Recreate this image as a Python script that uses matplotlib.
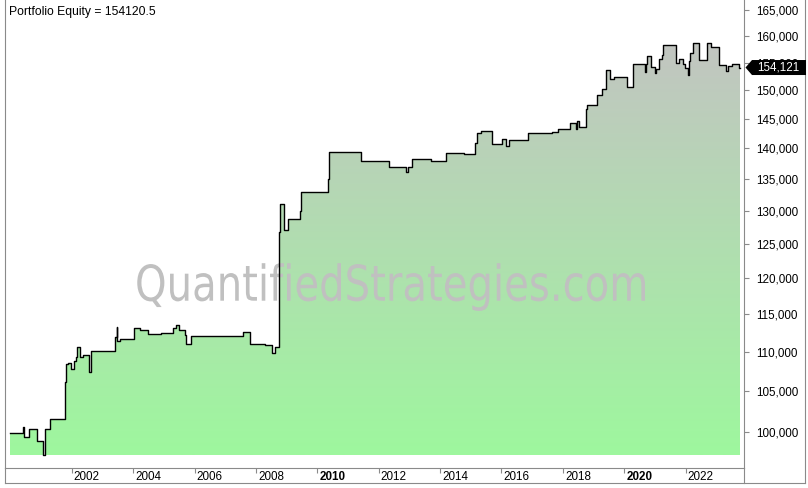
import numpy as np
import matplotlib
matplotlib.use("Agg")
import matplotlib.pyplot as plt
import matplotlib.transforms as mtransforms
from matplotlib.textpath import TextPath
from matplotlib.font_manager import FontProperties
from matplotlib.patches import PathPatch, Polygon
from matplotlib.path import Path
from matplotlib.lines import Line2D
from matplotlib.ticker import FuncFormatter, NullLocator, FixedLocator

# equity curve (decimal year, equity), drawn as steps
years = [2000.00, 2000.42, 2000.43, 2000.62, 2000.87, 2001.07, 2001.14, 2001.30,
         2001.79, 2001.82, 2001.89, 2001.98, 2002.08, 2002.13, 2002.16, 2002.28,
         2002.38, 2002.57, 2002.62, 2003.40, 2003.47, 2003.49, 2003.56, 2004.04,
         2004.23, 2004.48, 2004.90, 2005.31, 2005.41, 2005.49, 2005.68, 2005.73,
         2005.89, 2007.59, 2007.82, 2008.31, 2008.52, 2008.61, 2008.76, 2008.79,
         2008.93, 2009.05, 2009.44, 2009.48, 2010.34, 2010.37, 2011.43, 2012.32,
         2012.88, 2012.94, 2013.07, 2013.69, 2014.18, 2014.77, 2015.15, 2015.19,
         2015.32, 2015.68, 2016.03, 2016.14, 2016.23, 2016.85, 2017.63, 2017.85,
         2018.23, 2018.43, 2018.47, 2018.53, 2018.74, 2018.80, 2019.10, 2019.26,
         2019.39, 2019.53, 2019.67, 2020.08, 2020.29, 2020.69, 2020.72, 2020.75,
         2020.86, 2021.00, 2021.02, 2021.12, 2021.23, 2021.25, 2021.68, 2021.77,
         2021.91, 2021.99, 2022.07, 2022.10, 2022.14, 2022.25, 2022.44, 2022.70,
         2022.81, 2023.09, 2023.30, 2023.39, 2023.51, 2023.74, 2023.77]
equity = [99850, 100650, 99370, 100360, 98900, 97270, 100320, 101560,
          106110, 108400, 108490, 107720, 108830, 109300, 110570, 109260,
          109520, 107410, 110040, 111890, 113310, 111400, 111620, 113090,
          112820, 112330, 112420, 113090, 113500, 112820, 112150, 110960,
          112020, 112550, 111040, 110870, 109780, 110600, 126750, 131030,
          127100, 128710, 129990, 133000, 134970, 139470, 137950, 137010,
          136100, 137010, 138320, 137950, 139250, 139110, 140860, 142540,
          142990, 140690, 141540, 140350, 141370, 142540, 142740, 143220,
          144250, 143330, 144640, 143570, 146670, 147360, 149120, 150290,
          153620, 151980, 152340, 150650, 154720, 153360, 154720, 156240,
          154160, 153040, 153800, 155740, 156490, 158230, 155000, 155630,
          154760, 154030, 152810, 155270, 156740, 158730, 155500, 158610,
          157870, 154590, 153430, 154410, 154720, 154121, 154121]
fill_base = 97300
last_value = 154121
title = "Portfolio Equity = 154120.5"

ytick_vals = list(range(100000, 165001, 5000))
xtick_years = [2002, 2004, 2006, 2008, 2010, 2012, 2014, 2016, 2018, 2020, 2022]
bold_years = [2010, 2020]

W, H = 808, 488
GREY = "#8a8a8a"
FONT = "Liberation Sans"

fig = plt.figure(figsize=(W / 100, H / 100), dpi=100)
ax = fig.add_axes([5 / W, 20 / H, 739 / W, 468 / H])
ax.set_yscale("log")
ax.set_xlim(1999.827, 2023.90)
ax.set_ylim(95818, 166980)

# vertical gradient, clipped to the area under the curve
g = np.linspace(0, 1, 256)
t = np.clip((g - 0.028) / (0.91 - 0.028), 0, 1)[:, None]
bottom = np.array([158, 247, 158]) / 255
top = np.array([194, 197, 193]) / 255
img = (bottom * (1 - t) + top * t)[:, None, :]
im = ax.imshow(img, extent=[0, 1, 0, 1], transform=ax.transAxes, origin="lower",
               aspect="auto", interpolation="bilinear", zorder=1)
poly = ax.fill_between(years, equity, fill_base, step="post",
                       facecolor="none", edgecolor="none")
im.set_clip_path(poly.get_paths()[0], ax.transData)

# watermark
tp = TextPath((0, 0), "QuantifiedStrategies.com", size=1,
              prop=FontProperties(family="DejaVu Sans"))
v = tp.vertices
xmin, xmax = v[:, 0].min(), v[:, 0].max()
sx = 510 / (xmax - xmin)
sy = 36 / 0.729
nv = np.column_stack([(v[:, 0] - xmin) * sx + 135, v[:, 1] * sy + (H - 300.7)]) / [W, H]
wm = PathPatch(Path(nv, tp.codes), transform=fig.transFigure,
               facecolor="#c0c0c0", edgecolor="none", zorder=1.5)
ax.add_artist(wm)

ax.plot(years, equity, drawstyle="steps-post", color="black", lw=1.0, zorder=3)

ax.set_xlim(1999.827, 2023.90)
ax.set_ylim(95818, 166980)

for s in ["left", "right", "bottom"]:
    ax.spines[s].set_color(GREY)
    ax.spines[s].set_linewidth(0.8)
ax.spines["top"].set_visible(False)

ax.yaxis.tick_right()
ax.yaxis.set_major_locator(FixedLocator(ytick_vals))
ax.yaxis.set_minor_locator(NullLocator())
ax.yaxis.set_major_formatter(FuncFormatter(lambda val, pos: f"{val:,.0f}"))
ax.tick_params(axis="y", direction="out", length=3.6, width=0.8, pad=5,
               color=GREY, labelsize=8.4, labelcolor="black")
for lab in ax.get_yticklabels():
    lab.set_fontfamily(FONT)

ax.set_xticks(xtick_years)
ax.xaxis.set_minor_locator(NullLocator())
ax.tick_params(axis="x", direction="out", length=3.6, width=0.8, color=GREY,
               labelbottom=False)
xlab_tr = mtransforms.blended_transform_factory(ax.transData, ax.transAxes) + \
    mtransforms.ScaledTranslation(2 / 100, -12 / 100, fig.dpi_scale_trans)
for yr in xtick_years:
    ax.text(yr, 0, str(yr), transform=xlab_tr, ha="left", va="baseline",
            fontsize=8.4, family=FONT, clip_on=False,
            fontweight="bold" if yr in bold_years else "normal")

fig.text(9 / W, 1 - 15.5 / H, title, fontsize=8.7, family=FONT, va="baseline")

# outer frame
for (x0, y0, x1, y1) in [(5, 483, 805, 483), (805, 0, 805, 483),
                         (5, 468, 5, 483), (744, 468, 744, 483)]:
    fig.add_artist(Line2D([x0 / W, x1 / W], [1 - y0 / H, 1 - y1 / H],
                          transform=fig.transFigure, color=GREY, lw=0.8))

# last value marker
yc = ax.transData.transform((2020, last_value))[1]
pts = np.array([(745.5, yc), (752, yc + 7.5), (806, yc + 7.5),
                (806, yc - 7.5), (752, yc - 7.5)]) / [W, H]
fig.add_artist(Polygon(pts, closed=True, transform=fig.transFigure,
                       facecolor="black", edgecolor="none", zorder=5))
fig.text(757 / W, yc / H, f"{last_value:,}", color="white", va="center",
         ha="left", fontsize=8.4, family=FONT, zorder=6)

fig.savefig("out.png", dpi=100)
